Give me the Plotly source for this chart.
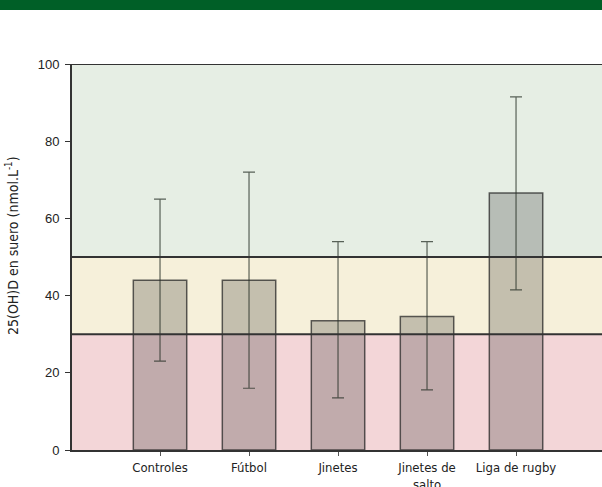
import plotly.graph_objects as go

# Serum 25(OH)D by group: mean with lower/upper range
categories = ["Controles", "Fútbol", "Jinetes", "Jinetes de<br>salto", "Liga de rugby"]
means = [44, 44, 33.5, 34.6, 66.6]
upper = [65, 72, 54, 54, 91.5]
lower = [23, 16, 13.5, 15.6, 41.5]

# Reference bands (nmol/L)
band_edges = [0, 30, 50, 100]
band_colors = ["#f3d6d8", "#f6f0da", "#e6eee4"]

y_ticks = [0, 20, 40, 60, 80, 100]

W, H = 602, 487
ML, MR, MT, MB = 72, 0, 64, 37
plot_h = H - MT - MB

narrow = "DejaVu Sans Condensed, Liberation Sans Narrow, sans-serif"
regular = "Liberation Sans, Arial, sans-serif"

x_idx = list(range(len(categories)))

fig = go.Figure()
fig.add_trace(go.Bar(
    x=x_idx,
    y=means,
    width=0.6,
    marker=dict(color="rgba(20,20,20,0.22)",
                line=dict(color="rgba(40,40,40,0.75)", width=1.5)),
    error_y=dict(type="data", symmetric=False,
                 array=[u - m for u, m in zip(upper, means)],
                 arrayminus=[m - l for m, l in zip(means, lower)],
                 color="rgba(40,50,40,0.75)", thickness=1.2, width=6),
    showlegend=False,
))

shapes = []
for i, c in enumerate(band_colors):
    shapes.append(dict(type="rect", xref="paper", yref="y", layer="below",
                       x0=0, x1=1, y0=band_edges[i], y1=band_edges[i + 1],
                       fillcolor=c, line=dict(width=0)))
for v in band_edges[1:]:
    shapes.append(dict(type="line", xref="paper", yref="y", layer="above",
                       x0=0, x1=1, y0=v, y1=v,
                       line=dict(color="#333333", width=2)))
# Header strip
shapes.append(dict(type="rect", xref="paper", yref="paper", layer="above",
                   x0=-ML / (W - ML - MR), x1=1,
                   y0=1 + (MT - 10) / plot_h, y1=1 + MT / plot_h,
                   fillcolor="#005f27", line=dict(width=0)))

fig.update_layout(
    width=W, height=H,
    margin=dict(l=ML, r=MR, t=MT, b=MB, autoexpand=False),
    paper_bgcolor="white", plot_bgcolor="white",
    bargap=0.4,
    shapes=shapes,
    xaxis=dict(
        range=[-0.989, 4.966],
        tickvals=x_idx, ticktext=categories,
        ticks="outside", ticklen=4, tickwidth=1, tickcolor="#555",
        showline=True, linecolor="#333", linewidth=2,
        showgrid=False, zeroline=False, automargin=False,
        tickfont=dict(family=narrow, size=13, color="#222"),
    ),
    yaxis=dict(
        range=[0, 100],
        tickvals=y_ticks,
        ticks="outside", ticklen=5, tickwidth=1, tickcolor="#333",
        showline=True, linecolor="#333", linewidth=2,
        showgrid=False, zeroline=False, automargin=False,
        ticklabelstandoff=3,
        tickfont=dict(family=regular, size=13, color="#222"),
    ),
    annotations=[dict(
        text="25(OH)D en suero (nmol.L<sup>-1</sup>)",
        xref="paper", yref="paper",
        x=(12 - ML) / (W - ML - MR), y=(H - MB - 246) / plot_h,
        xanchor="center", yanchor="middle",
        textangle=-90, showarrow=False,
        font=dict(family=narrow, size=14, color="#222"),
    )],
)

fig.write_html("out.html")
